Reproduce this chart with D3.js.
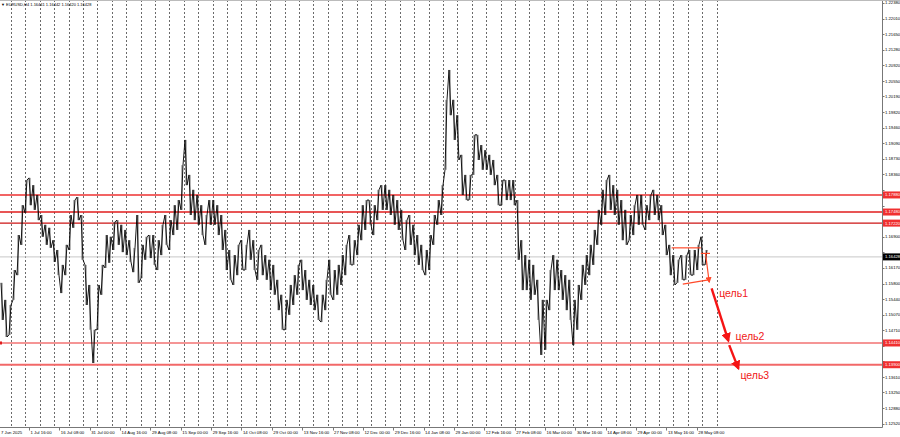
<!DOCTYPE html>
<html>
<head>
  <meta charset='utf-8'>
  <title>EURUSD H4</title>
  <script src='https://cdn.jsdelivr.net/npm/d3@7'></script>
  <style>
    body { margin: 0; background: #fff; }
    svg { display: block; font-family: 'Liberation Sans', Arial, sans-serif; }
  </style>
</head>
<body>
<script>
  // price band, one column per ~half week (high / low)
  const highs = [
    1.1582, 1.1542, 1.1530, 1.1612, 1.1694, 1.1764, 1.1823, 1.1828, 1.1811, 1.1788,
    1.1741, 1.1718, 1.1711, 1.1682, 1.1659, 1.1624, 1.1671, 1.1741, 1.1776, 1.1783,
    1.1741, 1.1624, 1.1577, 1.1472, 1.1577, 1.1624, 1.1694, 1.1690, 1.1725, 1.1729,
    1.1718, 1.1706, 1.1682, 1.1664, 1.1741, 1.1671, 1.1690, 1.1694, 1.1694, 1.1682,
    1.1718, 1.1741, 1.1729, 1.1764, 1.1776, 1.1858, 1.1917, 1.1835, 1.1800, 1.1788,
    1.1764, 1.1741, 1.1776, 1.1776, 1.1764, 1.1741, 1.1706, 1.1659, 1.1647, 1.1671,
    1.1682, 1.1671, 1.1706, 1.1682, 1.1659, 1.1671, 1.1647, 1.1636, 1.1624, 1.1589,
    1.1554, 1.1542, 1.1577, 1.1600, 1.1624, 1.1636, 1.1612, 1.1589, 1.1577, 1.1554,
    1.1554, 1.1589, 1.1636, 1.1612, 1.1624, 1.1647, 1.1671, 1.1694, 1.1682, 1.1718,
    1.1764, 1.1776, 1.1776, 1.1764, 1.1800, 1.1811, 1.1811, 1.1800, 1.1788, 1.1776,
    1.1753, 1.1729, 1.1741, 1.1718, 1.1694, 1.1671, 1.1659, 1.1694, 1.1741, 1.1776,
    1.1811, 1.2011, 1.2081, 1.2011, 1.1975, 1.1882, 1.1835, 1.1835, 1.1929, 1.1929,
    1.1905, 1.1893, 1.1882, 1.1870, 1.1835, 1.1823, 1.1823, 1.1823, 1.1823, 1.1776,
    1.1682, 1.1647, 1.1636, 1.1624, 1.1589, 1.1542, 1.1542, 1.1612, 1.1647, 1.1636,
    1.1612, 1.1600, 1.1589, 1.1542, 1.1577, 1.1624, 1.1647, 1.1671, 1.1706, 1.1753,
    1.1800, 1.1823, 1.1835, 1.1811, 1.1800, 1.1776, 1.1753, 1.1741, 1.1764, 1.1788,
    1.1788, 1.1764, 1.1788, 1.1800, 1.1788, 1.1764, 1.1718, 1.1671, 1.1647, 1.1636,
    1.1647, 1.1647, 1.1659, 1.1659, 1.1671, 1.1690, 1.1659
  ];
  const lows = [
    1.1495, 1.1455, 1.1460, 1.1542, 1.1600, 1.1671, 1.1746, 1.1764, 1.1753, 1.1729,
    1.1690, 1.1671, 1.1664, 1.1631, 1.1600, 1.1558, 1.1600, 1.1659, 1.1711, 1.1729,
    1.1636, 1.1530, 1.1472, 1.1394, 1.1472, 1.1554, 1.1617, 1.1629, 1.1659, 1.1671,
    1.1654, 1.1647, 1.1631, 1.1607, 1.1582, 1.1593, 1.1636, 1.1640, 1.1624, 1.1612,
    1.1647, 1.1671, 1.1659, 1.1694, 1.1706, 1.1753, 1.1811, 1.1741, 1.1729, 1.1718,
    1.1694, 1.1671, 1.1718, 1.1718, 1.1694, 1.1659, 1.1612, 1.1589, 1.1577, 1.1600,
    1.1612, 1.1612, 1.1636, 1.1612, 1.1589, 1.1600, 1.1589, 1.1565, 1.1554, 1.1518,
    1.1472, 1.1472, 1.1507, 1.1530, 1.1554, 1.1565, 1.1542, 1.1530, 1.1518, 1.1495,
    1.1490, 1.1518, 1.1554, 1.1542, 1.1554, 1.1577, 1.1600, 1.1624, 1.1624, 1.1647,
    1.1682, 1.1706, 1.1718, 1.1694, 1.1729, 1.1753, 1.1753, 1.1741, 1.1718, 1.1706,
    1.1682, 1.1659, 1.1671, 1.1647, 1.1624, 1.1612, 1.1600, 1.1612, 1.1671, 1.1718,
    1.1741, 1.1847, 1.1975, 1.1917, 1.1870, 1.1788, 1.1776, 1.1776, 1.1835, 1.1870,
    1.1847, 1.1847, 1.1835, 1.1811, 1.1764, 1.1764, 1.1776, 1.1776, 1.1764, 1.1636,
    1.1565, 1.1565, 1.1542, 1.1554, 1.1495, 1.1413, 1.1425, 1.1518, 1.1565, 1.1565,
    1.1542, 1.1518, 1.1495, 1.1436, 1.1472, 1.1542, 1.1577, 1.1600, 1.1624, 1.1671,
    1.1718, 1.1741, 1.1753, 1.1741, 1.1718, 1.1682, 1.1671, 1.1682, 1.1694, 1.1718,
    1.1718, 1.1706, 1.1729, 1.1741, 1.1729, 1.1694, 1.1647, 1.1600, 1.1577, 1.1582,
    1.1589, 1.1589, 1.1600, 1.1600, 1.1612, 1.1624, 1.1624
  ];

  const priceTicks = [1.22380, 1.22010, 1.21650, 1.21280, 1.20920, 1.20550, 1.20190,
    1.19820, 1.19460, 1.19090, 1.18730, 1.18360, 1.18000, 1.17630, 1.17270, 1.16900,
    1.16540, 1.16170, 1.15800, 1.15440, 1.15070, 1.14710, 1.14340, 1.13980, 1.13610,
    1.13250, 1.12880, 1.12520];

  const timeLabels = ['7 Jun 2025', '1 Jul 16:00', '16 Jul 08:00', '31 Jul 00:00',
    '14 Aug 16:00', '29 Aug 08:00', '15 Sep 00:00', '29 Sep 16:00', '14 Oct 08:00',
    '29 Oct 00:00', '13 Nov 16:00', '27 Nov 08:00', '12 Dec 00:00', '29 Dec 16:00',
    '14 Jan 08:00', '29 Jan 00:00', '12 Feb 16:00', '27 Feb 08:00', '16 Mar 00:00',
    '30 Mar 16:00', '14 Apr 08:00', '29 Apr 00:00', '13 May 16:00', '28 May 08:00'];

  // horizontal levels drawn by the trader
  const levels = [1.1788, 1.1748, 1.1722, 1.1441, 1.1390];
  const levelColors = ['#f26464', '#e01c1c', '#cc1414', '#f27272', '#f26868'];
  const levelWidths = [2, 1.5, 1.2, 1.5, 2];
  const lastPrice = 1.16428;

  // flag outline and target arrows, in (bar column, price)
  const flagLines = [
    [[167.4, 1.1664], [174.7, 1.1664]],
    [[174.7, 1.1651], [177.0, 1.1651]],
    [[170.2, 1.1579], [176.6, 1.1589]]
  ];
  const flagLeg = [[175.9, 1.1650], [176.8, 1.1584]];
  const targetArrows = [
    [[177.4, 1.1569], [181.6, 1.1446]],
    [[181.8, 1.1436], [184.1, 1.1381]]
  ];
  const targets = [
    { name: 'цель1', at: [179.3, 1.1549] },
    { name: 'цель2', at: [183.4, 1.1449] },
    { name: 'цель3', at: [184.6, 1.1356] }
  ];

  const width = 900, height = 437;
  const plotRight = 882.5, plotBottom = 427.5;

  const x = d3.scaleLinear().domain([0, highs.length - 1]).range([2, 706]);
  const y = d3.scaleLinear().domain([1.12520, 1.22380]).range([423.6, 3]);

  const svg = d3.select('body').append('svg')
    .attr('width', width).attr('height', height);

  svg.append('rect').attr('width', width).attr('height', height).attr('fill', '#fff');

  const defs = svg.append('defs');
  defs.append('marker').attr('id', 'bigHead')
    .attr('viewBox', '0 0 10 10').attr('refX', 8).attr('refY', 5)
    .attr('markerWidth', 4).attr('markerHeight', 4)
    .attr('markerUnits', 'strokeWidth').attr('orient', 'auto')
    .append('path').attr('d', 'M0,0L10,5L0,10z').attr('fill', '#f51414');
  defs.append('marker').attr('id', 'smallHead')
    .attr('viewBox', '0 0 10 10').attr('refX', 8).attr('refY', 5)
    .attr('markerWidth', 5).attr('markerHeight', 5)
    .attr('markerUnits', 'strokeWidth').attr('orient', 'auto')
    .append('path').attr('d', 'M0,0L10,5L0,10z').attr('fill', '#ff4a2a');

  // weekly separators
  const seps = d3.range(50).map(k => 2.25 + 3.6 * k);
  svg.append('g').selectAll('line').data(seps).join('line')
    .attr('x1', d => Math.round(x(d)) + 0.5).attr('x2', d => Math.round(x(d)) + 0.5)
    .attr('y1', 0).attr('y2', plotBottom)
    .attr('stroke', '#444').attr('stroke-width', 0.8)
    .attr('stroke-dasharray', '2,2');

  // last price line
  svg.append('line')
    .attr('x1', 0).attr('x2', plotRight)
    .attr('y1', y(lastPrice)).attr('y2', y(lastPrice))
    .attr('stroke', '#c8c8c8').attr('stroke-width', 1);

  // levels
  svg.append('g').selectAll('line').data(levels).join('line')
    .attr('x1', 0).attr('x2', plotRight)
    .attr('y1', d => y(d)).attr('y2', d => y(d))
    .attr('stroke', (d, i) => levelColors[i])
    .attr('stroke-width', (d, i) => levelWidths[i]);
  svg.append('rect').attr('x', 0).attr('y', y(levels[3]) - 1.5)
    .attr('width', 2).attr('height', 3).attr('fill', '#e01c1c');

  // price scribble: zigzag through each column's high and low, plus the range bar
  const mid = i => (highs[i] + lows[i]) / 2;
  const pts = [];
  highs.forEach((h, i) => {
    const up = i < highs.length - 1 ? mid(i + 1) > mid(i) : true;
    if (up) {
      pts.push([x(i) - 1, y(lows[i])], [x(i) + 1, y(h)]);
    } else {
      pts.push([x(i) - 1, y(h)], [x(i) + 1, y(lows[i])]);
    }
  });
  svg.append('g').selectAll('line').data(highs).join('line')
    .attr('x1', (d, i) => x(i)).attr('x2', (d, i) => x(i))
    .attr('y1', d => y(d)).attr('y2', (d, i) => y(lows[i]))
    .attr('stroke', '#333').attr('stroke-width', 0.7);
  svg.append('path')
    .attr('d', d3.line()(pts))
    .attr('fill', 'none').attr('stroke', '#000').attr('stroke-width', 0.9);

  // flag and targets
  const gp = p => [x(p[0]), y(p[1])];
  svg.append('g').selectAll('path').data(flagLines).join('path')
    .attr('d', d => d3.line()(d.map(gp)))
    .attr('stroke', '#ff4a2a').attr('stroke-width', 1.2).attr('fill', 'none');
  svg.append('path').attr('d', d3.line()(flagLeg.map(gp)))
    .attr('stroke', '#ff4a2a').attr('stroke-width', 1.2).attr('fill', 'none')
    .attr('marker-end', 'url(#smallHead)');
  svg.append('g').selectAll('path').data(targetArrows).join('path')
    .attr('d', d => d3.line()(d.map(gp)))
    .attr('stroke', '#f51414').attr('stroke-width', 2.4).attr('fill', 'none')
    .attr('marker-end', 'url(#bigHead)');
  svg.append('g').selectAll('text').data(targets).join('text')
    .attr('x', d => x(d.at[0])).attr('y', d => y(d.at[1]))
    .attr('fill', '#f01818').attr('font-size', 10.5)
    .text(d => d.name);

  // frame
  svg.append('line').attr('x1', plotRight).attr('x2', plotRight)
    .attr('y1', 0).attr('y2', plotBottom).attr('stroke', '#777');
  svg.append('line').attr('x1', 0).attr('x2', plotRight)
    .attr('y1', plotBottom).attr('y2', plotBottom).attr('stroke', '#777');
  svg.append('line').attr('x1', 0).attr('x2', width)
    .attr('y1', 0.5).attr('y2', 0.5).attr('stroke', '#bbb');

  // coloured price tags cover the grey labels they sit on
  const tags = levels.map(v => ({ v, c: '#f03030' }))
    .concat([{ v: lastPrice, c: '#000' }]);
  const shown = priceTicks.filter(t => tags.every(g => Math.abs(y(g.v) - y(t)) > 6.5));

  // price axis
  const pa = svg.append('g').attr('font-size', 4.2).attr('fill', '#000');
  pa.selectAll('line').data(priceTicks).join('line')
    .attr('x1', plotRight).attr('x2', plotRight + 2)
    .attr('y1', d => Math.round(y(d)) + 0.5).attr('y2', d => Math.round(y(d)) + 0.5)
    .attr('stroke', '#777');
  pa.selectAll('text').data(shown).join('text')
    .attr('x', plotRight + 2.5).attr('y', d => y(d)).attr('dy', '0.35em')
    .text(d => d.toFixed(5));

  const tg = svg.append('g').attr('font-size', 4.2);
  tg.selectAll('rect').data(tags).join('rect')
    .attr('x', plotRight + 0.5).attr('y', d => y(d.v) - 3.5)
    .attr('width', 17.5).attr('height', 7).attr('fill', d => d.c);
  tg.selectAll('text').data(tags).join('text')
    .attr('x', plotRight + 2.5).attr('y', d => y(d.v)).attr('dy', '0.35em')
    .attr('fill', '#fff').text(d => d.v.toFixed(5));

  // time axis
  const tx = d3.scalePoint().domain(timeLabels.slice(1))
    .range([x(6.75), x(173.7)]);
  const ta = svg.append('g').attr('font-size', 4.3).attr('fill', '#000');
  ta.append('text').attr('x', 1).attr('y', 433.5).text(timeLabels[0]);
  ta.selectAll('line').data(timeLabels.slice(1)).join('line')
    .attr('x1', d => Math.round(tx(d)) + 0.5).attr('x2', d => Math.round(tx(d)) + 0.5)
    .attr('y1', plotBottom).attr('y2', plotBottom + 3).attr('stroke', '#777');
  ta.selectAll('text.t').data(timeLabels.slice(1)).join('text')
    .attr('class', 't')
    .attr('x', d => tx(d) + 1.5).attr('y', 433.5).text(d => d);

  // title
  svg.append('text').attr('x', 1).attr('y', 6).attr('font-size', 4)
    .attr('fill', '#000').text('▼ EURUSD,H4  1.16441 1.16442 1.16420 1.16428');
</script>
</body>
</html>
